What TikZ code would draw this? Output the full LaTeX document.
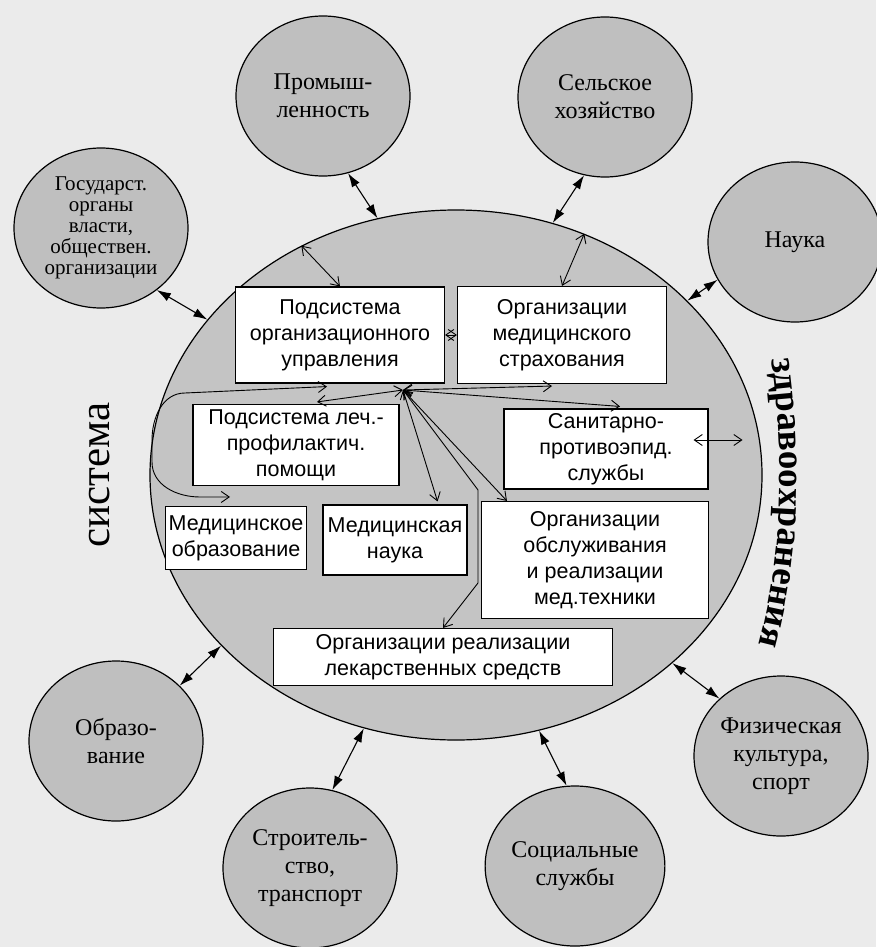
\documentclass[tikz,border=0pt]{standalone}
\usepackage{fontspec}
\setmainfont{Liberation Serif}
\newfontfamily\boxfam{Liberation Sans}
\usetikzlibrary{shapes.geometric,arrows.meta,decorations.text}

\begin{document}
\begin{tikzpicture}[x=1pt,y=-1pt,
    krug/.style={ellipse,draw,line width=1.2pt,fill=black!25,minimum width=174pt,minimum height=160pt,inner sep=0pt,align=center,font=\fontsize{24}{28}\selectfont},
    blok/.style={draw,line width=1.1pt,fill=white,inner sep=0pt,align=center,font=\boxfam\fontsize{21.5}{26}\selectfont},
    svyaz/.style={{Latex[length=14pt,width=9pt]}-{Latex[length=14pt,width=9pt]},line width=1.1pt},
    vnutr/.style={{Straight Barb[length=8pt,width=11pt]}-{Straight Barb[length=8pt,width=11pt]},line width=0.9pt}]
        \fill[black!8] (0,0) rectangle (876,947);
        \useasboundingbox (0,0) rectangle (876,947);
        % the system
        \node[ellipse,draw,line width=1.2pt,fill=black!23,minimum width=612pt,minimum height=530pt,inner sep=0pt] (sys) at (456,475) {};
        \node[blok,minimum width=209pt,minimum height=96pt] (upr) at (340,335) {Подсистема\\организационного\\управления};
        \node[blok,minimum width=209pt,minimum height=97pt] (strah) at (562,335) {Организации\\медицинского\\страхования};
        \node[blok,minimum width=206pt,minimum height=81pt] (lech) at (296,445) {Подсистема леч.-\\профилактич.\\помощи};
        \node[blok,minimum width=141pt,minimum height=63pt] (obr) at (236,538) {Медицинское\\образование};
        \node[blok,minimum width=144pt,minimum height=70pt] (nauka) at (395,540) {Медицинская\\наука};
        \node[blok,minimum width=204pt,minimum height=80pt] (san) at (606,449) {Санитарно-\\противоэпид.\\службы};
        \node[blok,minimum width=227pt,minimum height=117pt] (tehn) at (595,560) {Организации\\обслуживания\\и реализации\\мед.техники};
        \node[blok,minimum width=339pt,minimum height=57pt] (lek) at (443,657) {Организации реализации\\лекарственных средств};
        % outside
        \node[krug] (prom) at (323,96) {Промыш-\\ленность};
        \node[krug] (selh) at (605,97) {Сельское\\хозяйство};
        \node[krug] (nauk) at (795,242) {Наука};
        \node[krug,font=\fontsize{21}{21}\selectfont] (gos) at (101,228) {Государст.\\органы\\власти,\\обществен.\\организации};
        \node[krug] (obraz) at (116,741) {Образо-\\вание};
        \node[krug] (stroi) at (310,868) {Строитель-\\ство,\\транспорт};
        \node[krug] (soc) at (575,866) {Социальные\\службы};
        \node[krug] (fiz) at (781,756) {Физическая\\культура,\\спорт};
        \draw[svyaz] (prom.288) -- (sys.107);
        \draw[svyaz] (selh.255) -- (sys.69);
        \draw[svyaz] (nauk.206) -- (sys.37);
        \draw[svyaz] (gos.312) -- (sys.148);
        \draw[svyaz] (obraz.41) -- (sys.216);
        \draw[svyaz] (stroi.74) -- (sys.250);
        \draw[svyaz] (soc.96) -- (sys.288);
        \draw[svyaz] (fiz.137) -- (sys.319);
        % inside
        \coordinate (hub) at (403,390);
        \draw[vnutr] (sys.124) -- (upr.north);
        \draw[vnutr] (sys.62) -- (strah.north);
        \draw[vnutr] (upr.east) -- (strah.west);
        \draw[vnutr] ([xshift=-15pt,yshift=9pt]san.east) -- ([xshift=34pt,yshift=9pt]san.east);
        \draw[vnutr] (hub) -- ([xshift=-10pt,yshift=-2pt]strah.south);
        \draw[vnutr] (hub) -- ([xshift=14pt,yshift=2pt]san.north);
        \draw[vnutr] (hub) -- ([xshift=-30pt,yshift=3pt]nauka.north east);
        \draw[vnutr] (hub) -- ([xshift=26pt]tehn.north west);
        \draw[vnutr] (hub) -- ++(75,100) -- ++(0,93) -- (lek.north);
        \draw[vnutr] (hub) -- ([xshift=21pt,yshift=2pt]lech.north);
        \draw[vnutr] ([xshift=-13pt,yshift=-3pt]upr.south) -- (185,393) to[out=180,in=90] (152,440) -- (152,462) to[out=-90,in=180] (200,497) -- ([xshift=-6pt,yshift=9pt]obr.north);
        % titles
        \node[rotate=90,font=\fontsize{43}{43}\selectfont] (sist) at (100,475) {система};
        \path[decorate,decoration={text along path,text align=center,text={|\fontsize{37}{37}\selectfont\bfseries|здравоохранения}}] (768,335) .. controls (786,450) and (786,560) .. (752,668);
    \end{tikzpicture}
\end{document}
